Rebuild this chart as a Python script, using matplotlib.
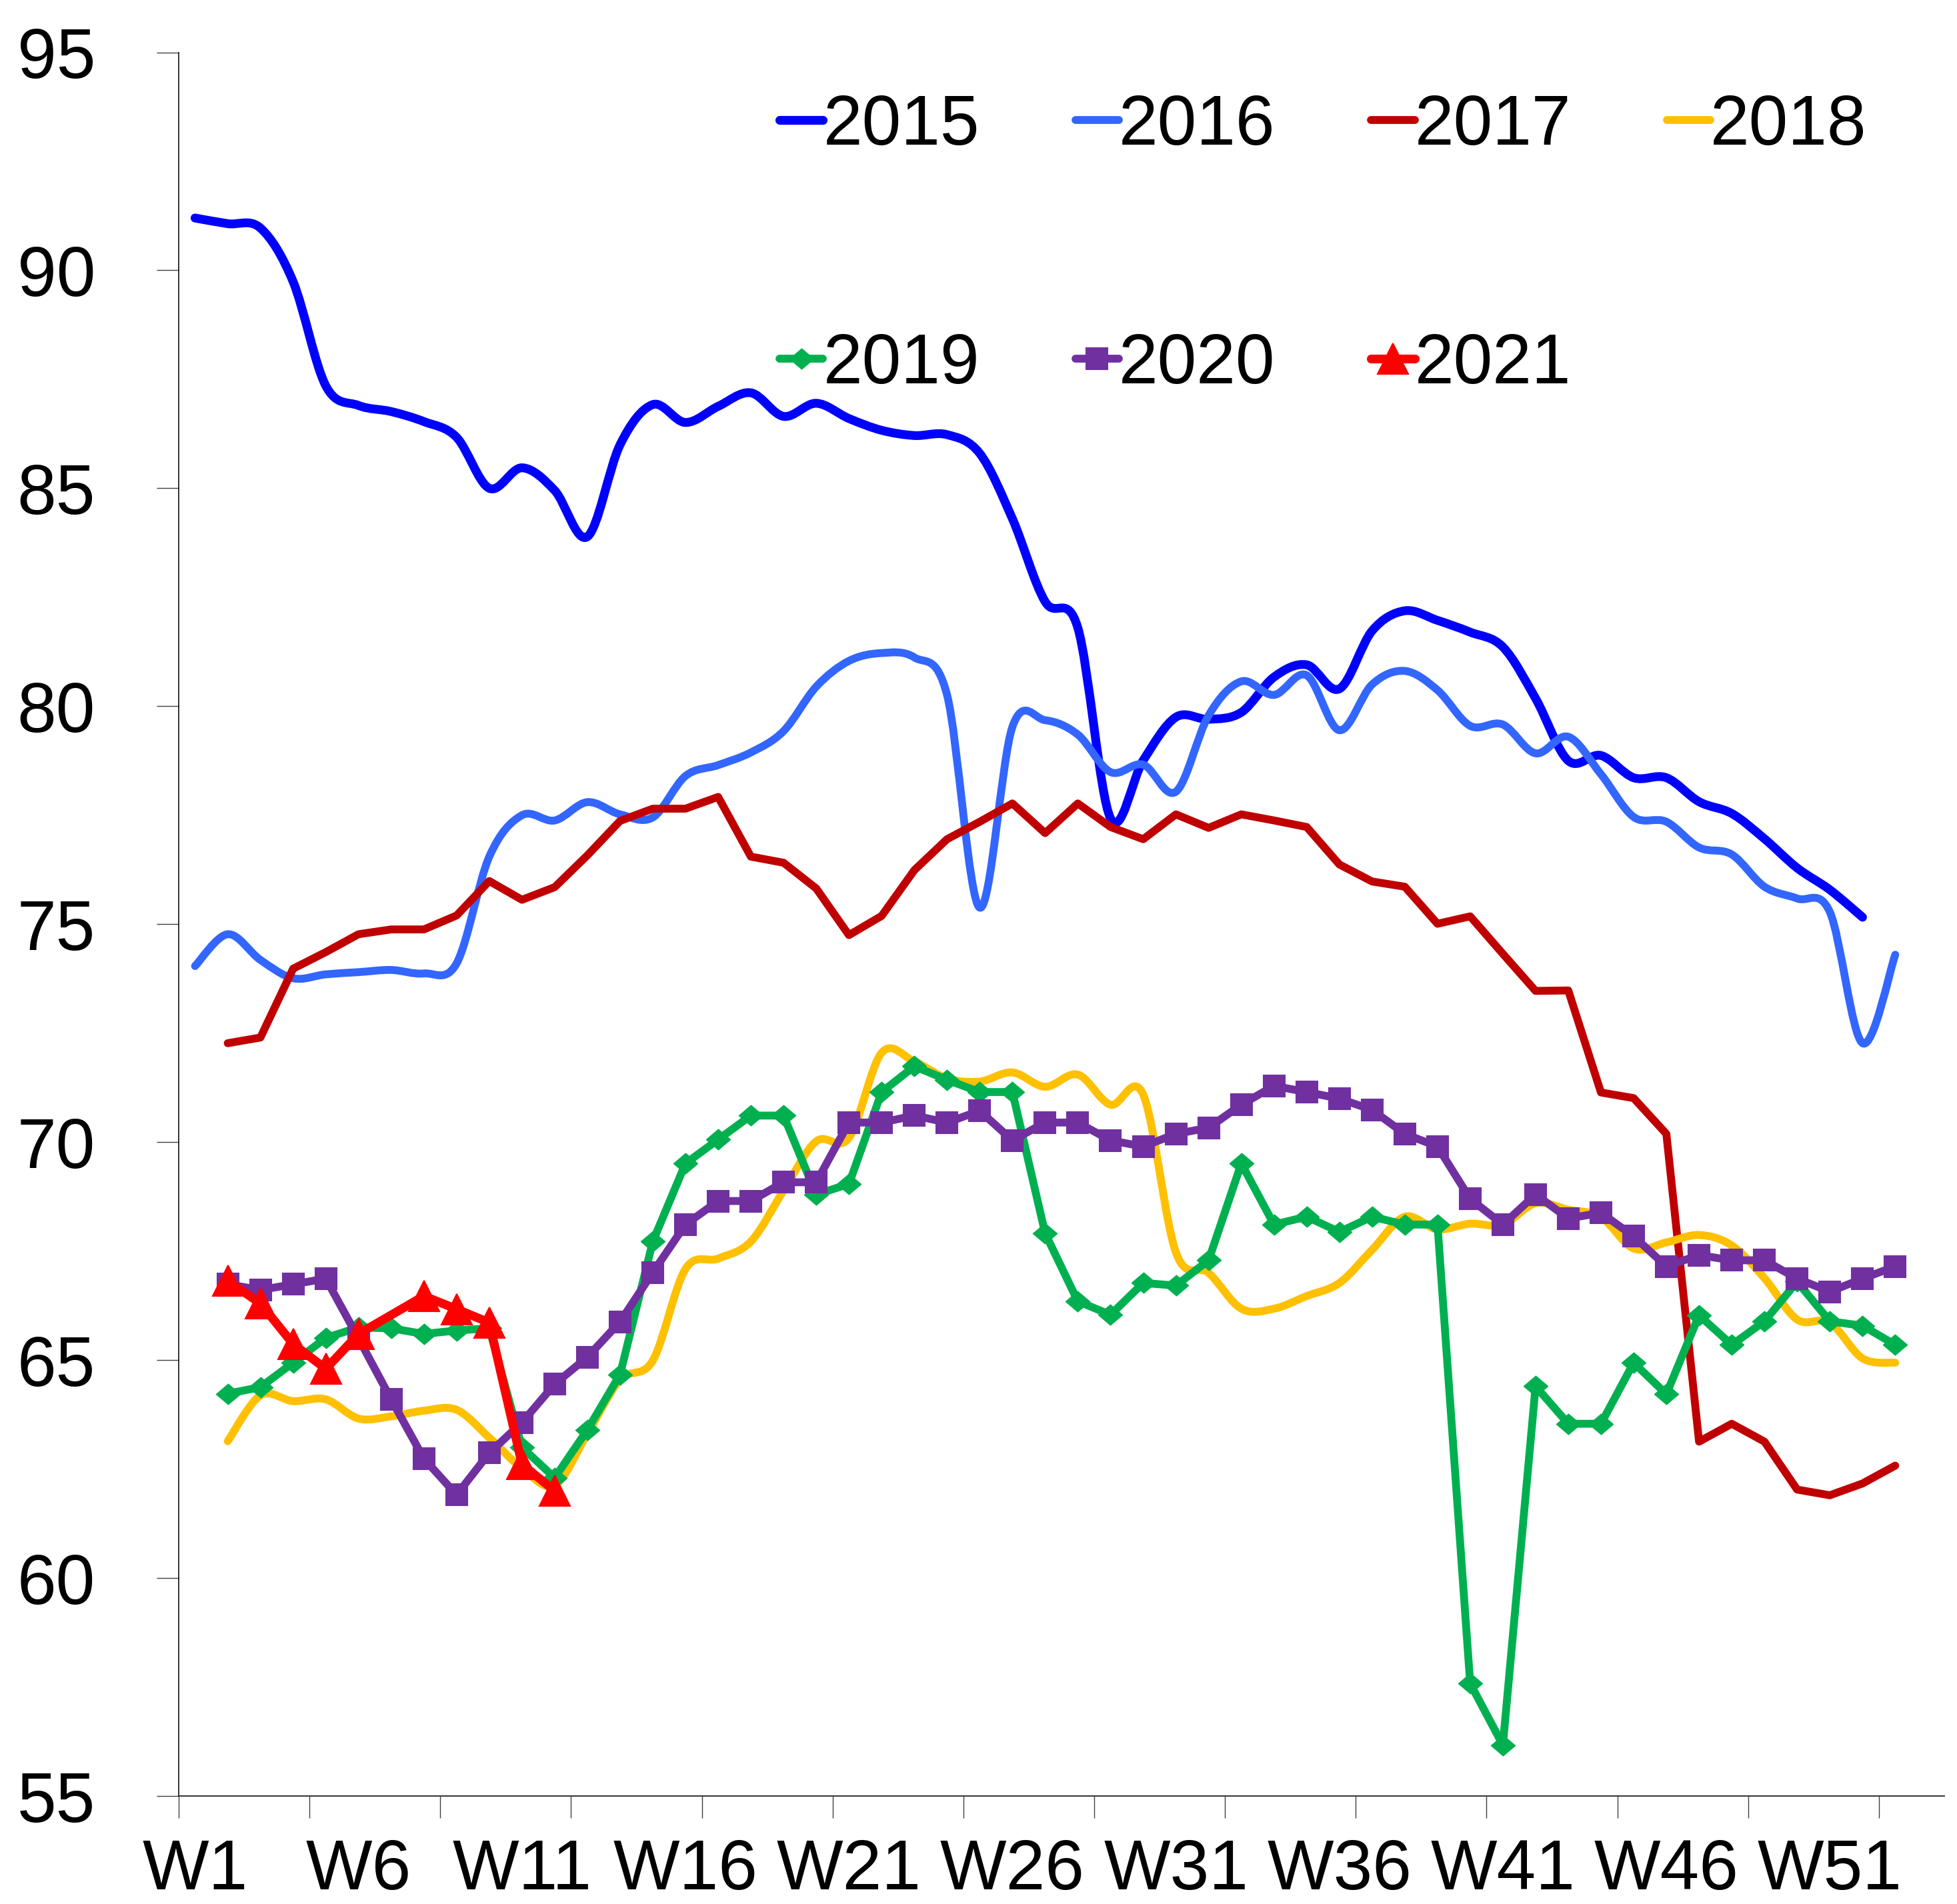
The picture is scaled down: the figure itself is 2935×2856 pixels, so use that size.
import numpy as np
import matplotlib
matplotlib.use('Agg')
import matplotlib.pyplot as plt
from matplotlib.path import Path
from matplotlib.patches import PathPatch
from matplotlib.lines import Line2D

plt.rcParams['font.family'] = ['Liberation Sans', 'DejaVu Sans']

# week categories on the x axis (54 slots, labelled every 5th)
n_weeks = 54
tick_pos = [0, 5, 10, 15, 20, 25, 30, 35, 40, 45, 50]
tick_labels = ['W1', 'W6', 'W11', 'W16', 'W21', 'W26', 'W31', 'W36', 'W41', 'W46', 'W51']

# weekly values, index 0 = W1 (None = no value)
y2015 = [91.2, 91.07, 90.97, 89.74, 87.35, 86.9, 86.76, 86.53, 86.17, 85.0,
         85.47, 84.95, 83.89, 86.0, 86.92, 86.51, 86.88, 87.19, 86.65, 86.95,
         86.6, 86.33, 86.21, 86.23, 85.8, 84.3, 82.4, 81.8, 77.43, 78.76,
         79.75, 79.7, 79.86, 80.67, 80.95, 80.4, 81.73, 82.19, 81.97, 81.7,
         81.36, 80.18, 78.75, 78.87, 78.36, 78.36, 77.81, 77.54, 76.96, 76.29,
         75.79, 75.16]
y2016 = [74.04, 74.77, 74.18, 73.76, 73.85, 73.9, 73.95, 73.87, 74.1, 76.55,
         77.5, 77.38, 77.8, 77.52, 77.45, 78.4, 78.65, 78.94, 79.43, 80.45,
         81.04, 81.22, 81.12, 80.26, 75.38, 79.53, 79.68, 79.35, 78.49, 78.66,
         78.04, 79.79, 80.57, 80.26, 80.71, 79.45, 80.5, 80.81, 80.37, 79.55,
         79.58, 78.92, 79.3, 78.44, 77.46, 77.35, 76.76, 76.6, 75.86, 75.59,
         75.28, 72.27, 74.3]
y2017 = [None, 72.27, 72.4, 73.98, 74.36, 74.77, 74.88, 74.88, 75.2, 75.99,
         75.56, 75.85, 76.58, 77.37, 77.65, 77.65, 77.92, 76.55, 76.41, 75.82,
         74.75, 75.19, 76.24, 76.95, 77.35, 77.77, 77.09, 77.77, 77.23, 76.95,
         77.52, 77.21, 77.52, 77.38, 77.23, 76.37, 75.98, 75.86, 75.01, 75.18,
         74.32, 73.47, 73.48, 71.14, 71.01, 70.19, 63.13, 63.54, 63.13, 62.03,
         61.9, 62.17, 62.58]
y2018 = [None, 63.14, 64.19, 64.06, 64.1, 63.66, 63.71, 63.84, 63.86, 63.22,
         62.52, 62.13, 63.31, 64.55, 64.99, 67.09, 67.33, 67.72, 68.89, 70.02,
         70.1, 72.05, 71.85, 71.46, 71.39, 71.6, 71.27, 71.55, 70.86, 71.09,
         67.47, 67.0, 66.18, 66.18, 66.47, 66.77, 67.53, 68.29, 68.0, 68.13,
         68.11, 68.6, 68.45, 68.28, 67.56, 67.7, 67.87, 67.63, 66.88, 65.93,
         65.86, 65.04, 64.94]
y2019 = [None, 64.23, 64.38, 64.94, 65.51, 65.75, 65.73, 65.6, 65.68, 65.73,
         63.0, 62.3, 63.4, 64.67, 67.72, 69.51, 70.06, 70.61, 70.61, 68.8,
         69.04, 71.15, 71.74, 71.43, 71.15, 71.15, 67.91, 66.35, 66.04, 66.77,
         66.71, 67.29, 69.51, 68.11, 68.29, 67.94, 68.29, 68.11, 68.11, 57.58,
         56.17, 64.4, 63.54, 63.54, 64.94, 64.22, 66.03, 65.35, 65.89, 66.8,
         65.89, 65.79, 65.35]
y2020 = [None, 66.74, 66.61, 66.74, 66.87, 65.5, 64.1, 62.74, 61.91, 62.87,
         63.57, 64.45, 65.07, 65.88, 67.01, 68.11, 68.65, 68.65, 69.08, 69.08,
         70.45, 70.45, 70.61, 70.45, 70.72, 70.04, 70.45, 70.45, 70.04, 69.9,
         70.19, 70.33, 70.86, 71.29, 71.15, 71.0, 70.74, 70.19, 69.9, 68.7,
         68.11, 68.8, 68.25, 68.38, 67.84, 67.15, 67.41, 67.29, 67.29, 66.87,
         66.57, 66.87, 67.15]
y2021 = [None, 66.82, 66.3, 65.37, 64.8, 65.6, None, 66.47, 66.17, 65.86,
         62.61, 62.0]

years = ['2015', '2016', '2017', '2018', '2019', '2020', '2021']
colors = ['#0000FF', '#3366FF', '#C00000', '#FFC000', '#00B050', '#7030A0', '#FF0000']

diamond = Path([(-1, 0), (0, 0.85), (1, 0), (0, -0.85), (-1, 0)],
               [Path.MOVETO, Path.LINETO, Path.LINETO, Path.LINETO, Path.CLOSEPOLY])


def clean(vals):
    x = np.array([i for i, v in enumerate(vals) if v is not None], dtype=float)
    y = np.array([v for v in vals if v is not None], dtype=float)
    return x, y


def smooth_path(x, y):
    # excel-like smoothed line: cubic bezier through every point
    pts = np.column_stack([x, y])
    n = len(pts)
    verts = [pts[0]]
    codes = [Path.MOVETO]
    for k in range(n - 1):
        p0 = pts[max(k - 1, 0)]
        p1 = pts[k]
        p2 = pts[k + 1]
        p3 = pts[min(k + 2, n - 1)]
        verts += [p1 + (p2 - p0) / 6, p2 - (p3 - p1) / 6, p2]
        codes += [Path.CURVE4] * 3
    return Path(verts, codes)


fig = plt.figure(figsize=(29.35, 28.56), dpi=100)
ax = fig.add_axes([0.0913, 0.0567, 0.9022, 0.9158])

lw = 8.5
handles = {}

# smoothed lines
for yr, vals, c, w in [('2015', y2015, colors[0], 9.5), ('2016', y2016, colors[1], lw)]:
    x, y = clean(vals)
    ax.add_patch(PathPatch(smooth_path(x, y), fill=False, edgecolor=c, lw=w,
                           capstyle='round', joinstyle='round', zorder=2))
    handles[yr] = Line2D([], [], color=c, lw=w, solid_capstyle='round')

x, y = clean(y2017)
ax.plot(x, y, color=colors[2], lw=lw, solid_capstyle='round', solid_joinstyle='round', zorder=2)
handles['2017'] = Line2D([], [], color=colors[2], lw=lw, solid_capstyle='round')

x, y = clean(y2018)
ax.add_patch(PathPatch(smooth_path(x, y), fill=False, edgecolor=colors[3], lw=lw,
                       capstyle='round', joinstyle='round', zorder=2))
handles['2018'] = Line2D([], [], color=colors[3], lw=lw, solid_capstyle='round')

x, y = clean(y2019)
handles['2019'], = ax.plot(x, y, color=colors[4], lw=lw, marker=diamond, ms=26, mew=1,
                           solid_joinstyle='round', solid_capstyle='round', zorder=3)
x, y = clean(y2020)
handles['2020'], = ax.plot(x, y, color=colors[5], lw=lw, marker='s', ms=23, mew=1.5,
                           solid_joinstyle='round', solid_capstyle='round', zorder=4)
x, y = clean(y2021)
handles['2021'], = ax.plot(x, y, color=colors[6], lw=9.5, marker='^', ms=33, mew=1.5,
                           solid_joinstyle='round', solid_capstyle='round', zorder=5)

ax.set_xlim(-0.5, n_weeks - 0.5)
ax.set_ylim(55, 95)
ax.set_yticks(range(55, 96, 5))
ax.set_xticks(tick_pos)
ax.set_xticklabels(tick_labels)
ax.set_xticks(np.arange(-0.5, 52, 4), minor=True)

ax.tick_params(axis='y', direction='out', length=24, width=1, pad=66, labelsize=76,
               color='#404040')
ax.tick_params(axis='x', which='major', length=0, pad=45, labelsize=76)
ax.tick_params(axis='x', which='minor', direction='out', length=24, width=1, color='#404040')

for s in ['top', 'right']:
    ax.spines[s].set_visible(False)
for s in ['left', 'bottom']:
    ax.spines[s].set_linewidth(1.3)
    ax.spines[s].set_color('#222222')

order = ['2015', '2019', '2016', '2020', '2017', '2021', '2018']
leg = fig.legend([handles[k] for k in order], order, ncol=4, loc='upper left',
                 bbox_to_anchor=(0.3983, 0.951), frameon=False, fontsize=76,
                 handlelength=0.62, handletextpad=0.0, columnspacing=1.36,
                 labelspacing=2.45, borderpad=0, borderaxespad=0, numpoints=1,
                 markerscale=1.0)

fig.savefig('out.png', dpi=100)
